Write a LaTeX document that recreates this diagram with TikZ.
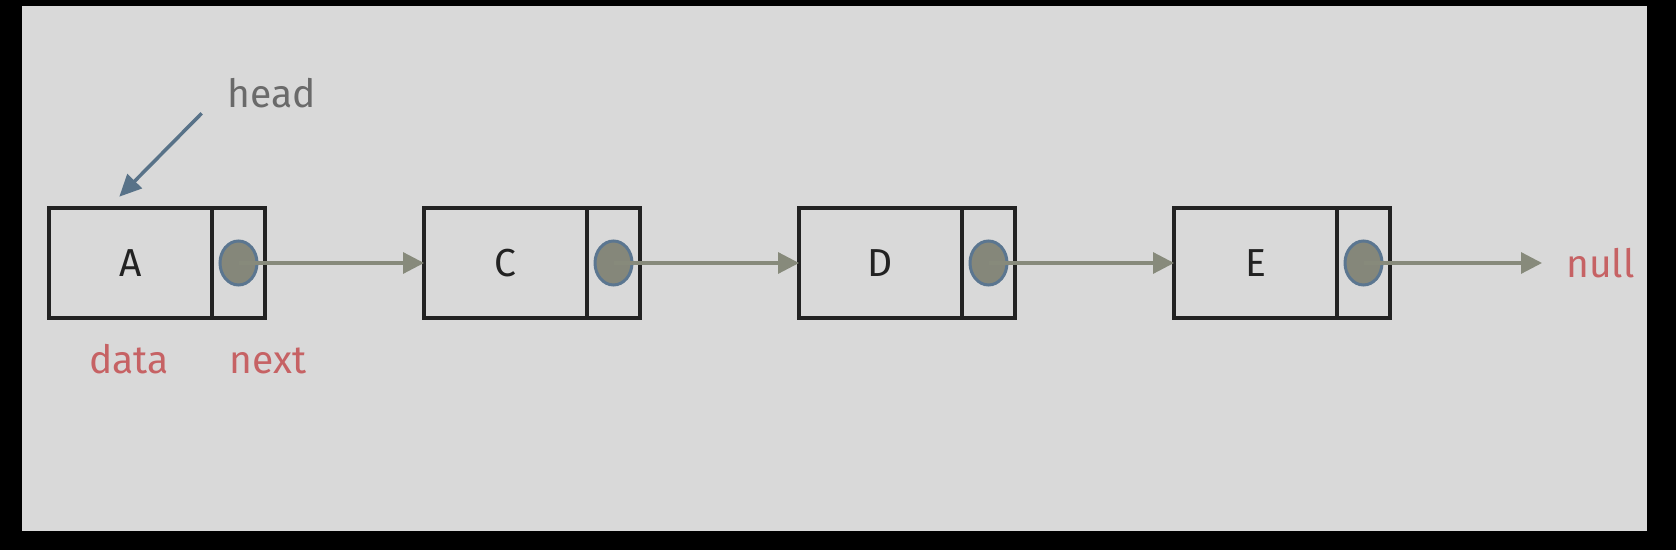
\documentclass[tikz,border=0pt]{standalone}
\usepackage{fontspec}
\setmainfont{Fira Sans}
\usetikzlibrary{arrows.meta}
\usetikzlibrary{shapes.geometric}
\usetikzlibrary{positioning}
\definecolor{bggray}{HTML}{D9D9D9}
\definecolor{boxline}{HTML}{222222}
\definecolor{ptrfill}{HTML}{85877A}
\definecolor{ptrline}{HTML}{5B7690}
\definecolor{linkgray}{HTML}{878A7B}
\definecolor{headblue}{HTML}{587288}
\definecolor{headtext}{HTML}{6A6A6A}
\definecolor{lblred}{HTML}{C66264}

\begin{document}
\begin{tikzpicture}[x=0.5pt,y=-0.5pt,
  cell/.style={draw=boxline, line width=1.65pt, minimum height=55pt, inner sep=0, outer sep=0, text=boxline, font=\fontsize{19.5}{20}\selectfont},
  datacell/.style={cell, minimum width=81.5pt},
  nextcell/.style={cell, minimum width=26.5pt},
  ptr/.style={ellipse, draw=ptrline, fill=ptrfill, line width=1.5pt, minimum width=18.5pt, minimum height=22pt, inner sep=0},
  link/.style={draw=linkgray, line width=1.6pt, -{Triangle[length=10.5pt,width=10.5pt]}},
  lbl/.style={text=lblred, inner sep=0, font=\fontsize{19.5}{20}\selectfont}]
% frame
\fill[black] (0,0) rectangle (1676,550);
\fill[bggray] (22,6) rectangle (1647,531);
% nodes of the list
\foreach \name [count=\i from 0] in {A,C,D,E} {
  \node[datacell] (\name) at ({130.5+375*\i},263) {\name};
  \node[nextcell, right=0pt of \name] (\name-n) {};
  \node[ptr] (\name-p) at (\name-n.center) {};
}
% links
\foreach \a/\b in {A/C,C/D,D/E}
  \draw[link] (\a-p.center) -- (\b.west);
\node[lbl, inner xsep=12pt, anchor=west] (null) at (1542,263) {null};
\draw[link] (E-p.center) -- (null.west);
% labels
\node[lbl, anchor=base] (datalbl) at (129,374) {data};
\node[lbl, anchor=base] (nextlbl) at (268,374) {next};
\node[lbl, text=headtext, anchor=base west] (head) at (227,107.3) {head};
\draw[headblue, line width=1.75pt, -{Triangle[length=11pt,width=10pt]}]
  ([xshift=-12.65pt,yshift=-3pt]head.base west) -- ([xshift=-5.6pt,yshift=5.65pt]A.north);
\end{tikzpicture}
\end{document}
